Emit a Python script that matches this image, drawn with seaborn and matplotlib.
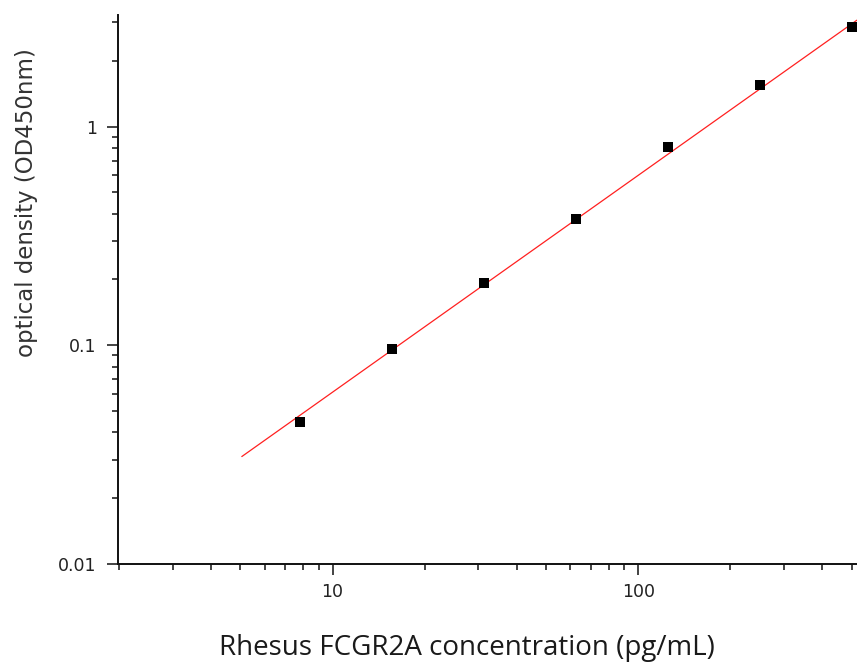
import numpy as np
import pandas as pd
import matplotlib
matplotlib.use("Agg")
import matplotlib.pyplot as plt
import matplotlib.ticker as mticker
import seaborn as sns

# standard curve points (pg/mL vs OD450)
conc = [7.8125, 15.625, 31.25, 62.5, 125, 250, 500]
od = [0.0446, 0.0962, 0.192, 0.380, 0.803, 1.549, 2.845]
# fitted line as drawn in the picture
fit_conc = [5.05, 519.5]
fit_od = [0.0310, 3.07]

sns.set_theme(style="ticks")
plt.rcParams['font.family'] = ['DejaVu Sans']

pts = pd.DataFrame({"conc": conc, "od": od})
fit = pd.DataFrame({"conc": fit_conc, "od": fit_od})

fig = plt.figure(figsize=(8.57, 6.64), dpi=100)
ax = fig.add_axes([117.5 / 857, 1 - 564 / 664, (857 - 117.5) / 857, (564 - 15) / 664])

sns.lineplot(data=fit, x="conc", y="od", color="#ff2020", linewidth=0.9, ax=ax)
sns.scatterplot(data=pts, x="conc", y="od", marker="s", s=46, color="black",
                linewidth=0, ax=ax, clip_on=False, zorder=3)

ax.set_xscale("log")
ax.set_yscale("log")
ax.set_xlim(1.98, 519.5)
ax.set_ylim(0.01, 3.24)

ax.xaxis.set_major_locator(mticker.FixedLocator([10, 100]))
ax.yaxis.set_major_locator(mticker.FixedLocator([0.01, 0.1, 1]))
fmt = mticker.FuncFormatter(lambda v, p: f"{v:g}")
ax.xaxis.set_major_formatter(fmt)
ax.yaxis.set_major_formatter(fmt)
ax.xaxis.set_minor_locator(mticker.LogLocator(base=10, subs=np.arange(2, 10)))
ax.yaxis.set_minor_locator(mticker.LogLocator(base=10, subs=np.arange(2, 10)))
ax.xaxis.set_minor_formatter(mticker.NullFormatter())
ax.yaxis.set_minor_formatter(mticker.NullFormatter())

sns.despine(ax=ax)
for s in ["left", "bottom"]:
    ax.spines[s].set_linewidth(1.4)
    ax.spines[s].set_color("#111111")
ax.tick_params(which="major", length=8, width=1.1, color="#111111",
               labelsize=12.5, labelcolor="#222222", direction="out")
ax.tick_params(axis="y", which="major", pad=7)
ax.tick_params(axis="x", which="major", pad=6)
ax.tick_params(which="minor", length=4, width=1.1, color="#111111", direction="out")

ax.set_xlabel("Rhesus FCGR2A concentration (pg/mL)", fontsize=20,
              family=["Open Sans", "DejaVu Sans"], color="#1a1a1a")
ax.xaxis.set_label_coords(0.472, -0.127)
ax.set_ylabel("optical density (OD450nm)", fontsize=16.5, color="#333333")
ax.yaxis.set_label_coords(-0.108, 0.659)

fig.savefig("out.png", dpi=100)
